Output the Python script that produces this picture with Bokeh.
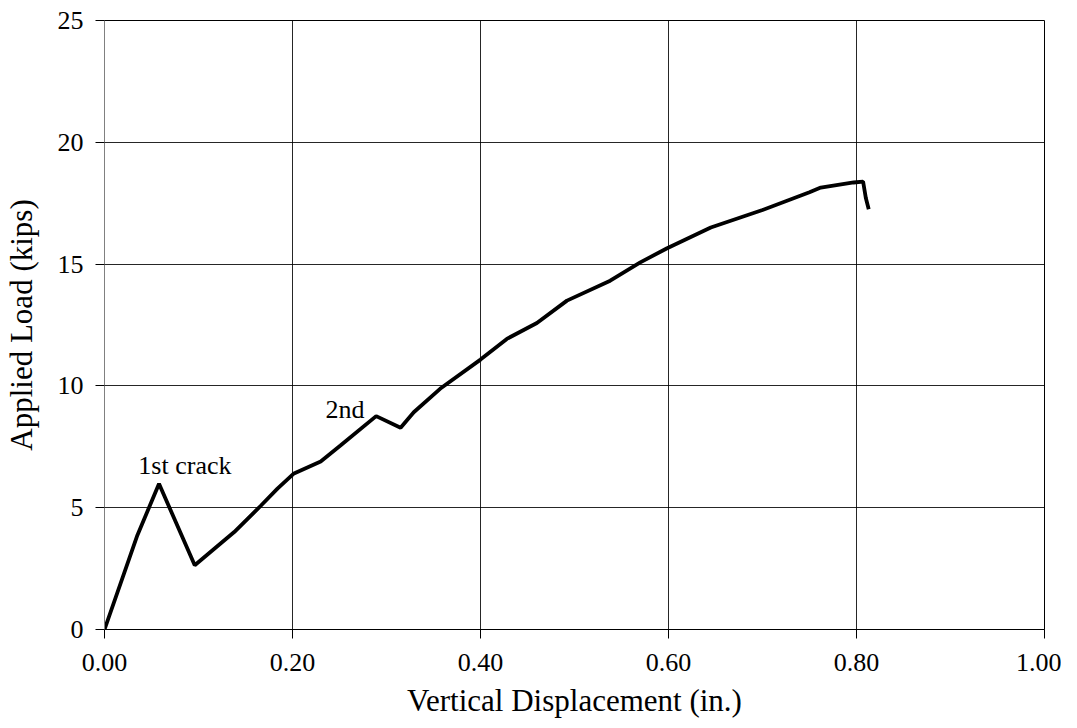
from bokeh.plotting import figure
from bokeh.models import FixedTicker, Range1d
from bokeh.embed import file_html
from bokeh.resources import INLINE
from bokeh.core.properties import value

# Data
displacement = [0.0, 0.035, 0.058, 0.096, 0.138, 0.166, 0.184, 0.201, 0.230, 0.251,
                0.289, 0.315, 0.329, 0.357, 0.400, 0.428, 0.460, 0.492, 0.538, 0.570,
                0.598, 0.645, 0.700, 0.750, 0.762, 0.797, 0.807, 0.810, 0.813]
load = [0.0, 3.87, 5.98, 2.64, 4.00, 5.07, 5.78, 6.39, 6.90, 7.55,
        8.76, 8.28, 8.92, 9.88, 11.08, 11.93, 12.58, 13.50, 14.32, 15.07,
        15.64, 16.50, 17.22, 17.95, 18.14, 18.35, 18.39, 17.70, 17.25]

x_ticks = [0.0, 0.2, 0.4, 0.6, 0.8, 1.0]
x_tick_labels = ["0.00", "0.20", "0.40", "0.60", "0.80", "1.00"]
y_ticks = [0, 5, 10, 15, 20, 25]
y_tick_labels = ["0", "5", "10", "15", "20", "25"]

annot_text = ["1st crack", "2nd"]
annot_x = [0.036, 0.235]
annot_y = [6.72, 9.02]

FONT = "Liberation Serif"

p = figure(width=1061, height=720, output_backend="svg", toolbar_location=None,
           x_range=Range1d(0, 1.0), y_range=Range1d(0, 25),
           min_border_left=96, min_border_right=17, min_border_top=20, min_border_bottom=81)
p.background_fill_color = "white"
p.border_fill_color = "white"
p.outline_line_color = "black"
p.outline_line_width = 1

p.line(displacement, load, line_color="black", line_width=3.8)
p.text(x=annot_x, y=annot_y, text=annot_text, text_font=value(FONT),
       text_font_size="26px", text_color="black", text_baseline="alphabetic", text_align="left")

for ax in (p.xaxis[0], p.yaxis[0]):
    ax.major_label_text_font = FONT
    ax.major_label_text_font_size = "26px"
    ax.major_label_text_color = "black"
    ax.axis_label_text_font = FONT
    ax.axis_label_text_font_size = "31px"
    ax.axis_label_text_font_style = "normal"
    ax.axis_label_text_color = "black"
    ax.major_tick_out = 9
    ax.major_tick_in = 0
    ax.minor_tick_out = 0
    ax.minor_tick_in = 0
    ax.major_tick_line_color = "black"

p.xaxis.axis_label = "Vertical Displacement (in.)"
p.yaxis.axis_label = "Applied Load (kips)"
p.xaxis.ticker = FixedTicker(ticks=x_ticks)
p.yaxis.ticker = FixedTicker(ticks=y_ticks)
p.xaxis.major_label_overrides = {t: l for t, l in zip(x_ticks, x_tick_labels)}
p.yaxis.major_label_overrides = {t: l for t, l in zip(y_ticks, y_tick_labels)}
p.xaxis.axis_line_color = "black"
p.yaxis.axis_line_color = "#808080"
p.xaxis.major_label_standoff = 15
p.yaxis.major_label_standoff = 12
p.xaxis.axis_label_standoff = 9
p.yaxis.axis_label_standoff = 16

p.xgrid.ticker = FixedTicker(ticks=x_ticks)
p.ygrid.ticker = FixedTicker(ticks=y_ticks)
p.grid.grid_line_color = "black"
p.grid.grid_line_width = 1
p.grid.grid_line_alpha = 0.85

open("out.html", "w").write(file_html(p, INLINE))
